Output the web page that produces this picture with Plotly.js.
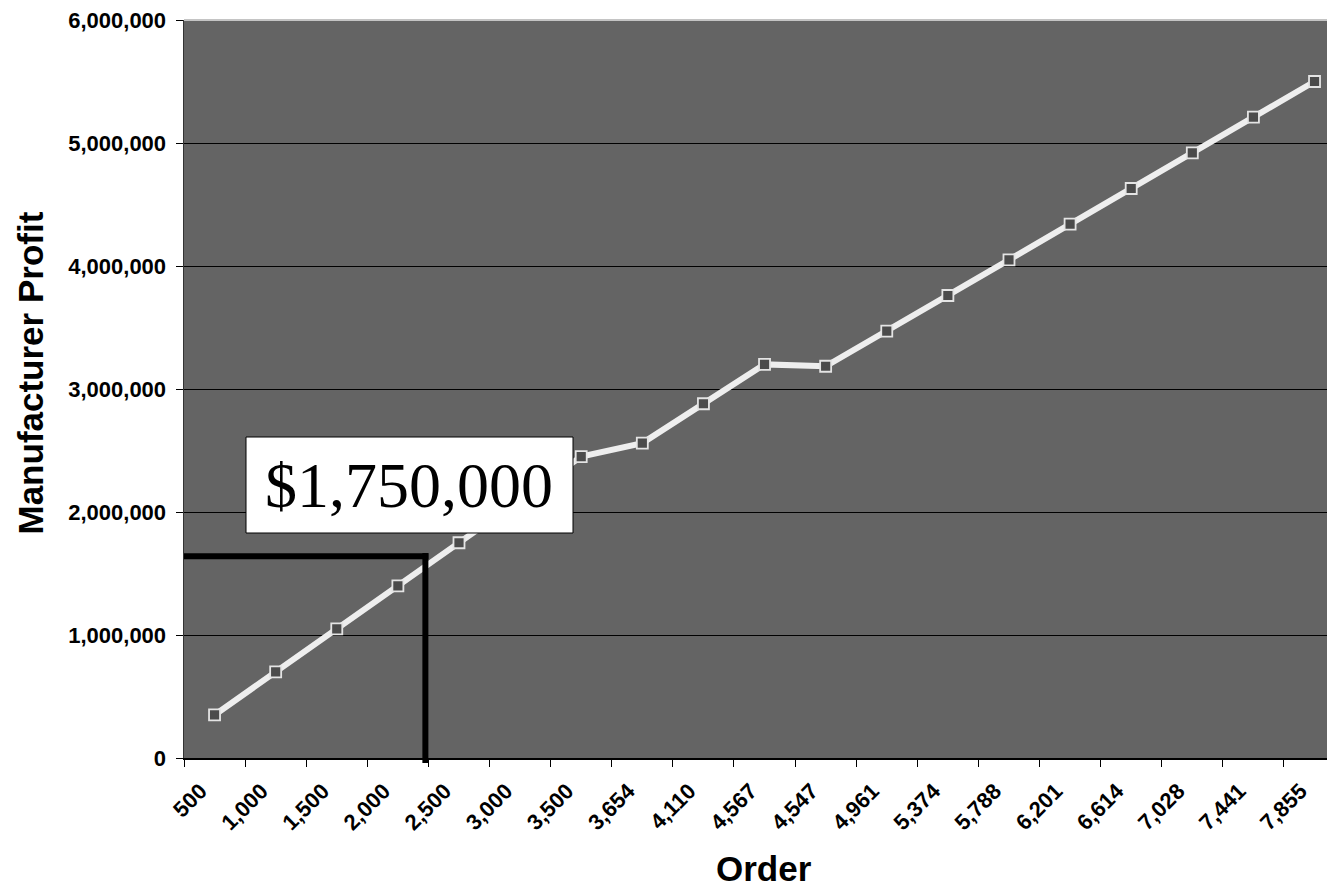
<!DOCTYPE html>
<html>
<head>
<meta charset="utf-8">
<script src="https://cdn.plot.ly/plotly-3.0.1.min.js"></script>
<style>html,body{margin:0;padding:0;background:#fff;}#chart{width:1327px;height:890px;}</style>
</head>
<body>
<div id="chart"></div>
<script>
// Order quantities (category labels)
const orders = ["500","1,000","1,500","2,000","2,500","3,000","3,500","3,654","4,110","4,567","4,547","4,961","5,374","5,788","6,201","6,614","7,028","7,441","7,855"];
// Manufacturer profit values
const profit = [350000,700000,1050000,1400000,1750000,2100000,2450000,2560000,2880000,3200000,3185000,3470000,3760000,4050000,4340000,4630000,4920000,5210000,5500000];
const yTickVals = [0,1000000,2000000,3000000,4000000,5000000,6000000];
const yTickText = ["0","1,000,000","2,000,000","3,000,000","4,000,000","5,000,000","6,000,000"];
const calloutText = "$1,750,000";
const markedProfit = 1640000;

const font = "Liberation Sans, Arial, sans-serif";

const trace = {
  x: orders,
  y: profit,
  type: "scatter",
  mode: "lines+markers",
  line: {color: "#eeeeee", width: 6},
  marker: {symbol: "square", size: 11, color: "#4b4b4b", line: {color: "#e4e4e4", width: 1.8}},
  hoverinfo: "skip",
  cliponaxis: false
};

const layout = {
  width: 1327, height: 890,
  margin: {l: 184, r: 0, t: 20, b: 132, pad: 0},
  paper_bgcolor: "#ffffff",
  plot_bgcolor: "#646464",
  showlegend: false,
  font: {family: font, color: "#000"},
  xaxis: {
    type: "category",
    range: [-0.5, 18.204],
    tickson: "boundaries",
    ticks: "outside", ticklen: 7, tickwidth: 1, tickcolor: "#000",
    tickangle: -45,
    ticklabelshift: -14,
    ticklabelstandoff: 10,
    tickfont: {family: font, size: 22, weight: "bold", color: "#000"},
    showline: true, linecolor: "#000", linewidth: 1.5,
    showgrid: false, zeroline: false, fixedrange: true,
    automargin: false
  },
  yaxis: {
    range: [0, 6000000],
    tickmode: "array", tickvals: yTickVals, ticktext: yTickText,
    ticks: "outside", ticklen: 7, tickwidth: 1, tickcolor: "#000",
    ticklabelstandoff: 5,
    tickfont: {family: font, size: 22, weight: "bold", color: "#000"},
    showline: true, linecolor: "#333", linewidth: 1.5,
    showgrid: true, gridcolor: "#000", gridwidth: 1,
    zeroline: false, fixedrange: true, automargin: false
  },
  shapes: [
    {type: "line", xref: "paper", yref: "paper", x0: 0, x1: 1, y0: 1, y1: 1, line: {color: "#c4c4c4", width: 2}, layer: "above"},
    {type: "line", xref: "x", yref: "y", x0: -0.5, x1: 3.5, y0: markedProfit, y1: markedProfit, line: {color: "#000", width: 6}, layer: "above"},
    {type: "line", xref: "x", yref: "paper", x0: 3.45, x1: 3.45, y0: -0.0068, y1: (758-553)/738, line: {color: "#000", width: 6}, layer: "above"},
    {type: "rect", xref: "paper", yref: "paper", x0: (246-184)/1143, x1: (573-184)/1143, y0: (758-533)/738, y1: (758-437)/738, fillcolor: "#ffffff", line: {color: "#000", width: 1}, layer: "above"}
  ],
  annotations: [
    {text: calloutText, xref: "paper", yref: "paper", x: (409-184)/1143, y: (758-485)/738, xanchor: "center", yanchor: "middle", showarrow: false,
     font: {family: "Liberation Serif, Times New Roman, serif", size: 64, color: "#000"}},
    {text: "Manufacturer Profit", xref: "paper", yref: "paper", x: (30-184)/1143, y: (758-373.5)/738, xanchor: "center", yanchor: "middle", textangle: -90, showarrow: false,
     font: {family: font, size: 35, weight: "bold", color: "#000"}},
    {text: "Order", xref: "paper", yref: "paper", x: (764-184)/1143, y: -132/738, xanchor: "center", yanchor: "bottom", showarrow: false,
     font: {family: font, size: 35, weight: "bold", color: "#000"}}
  ]
};

Plotly.newPlot("chart", [trace], layout, {displayModeBar: false, staticPlot: true});
</script>
</body>
</html>
